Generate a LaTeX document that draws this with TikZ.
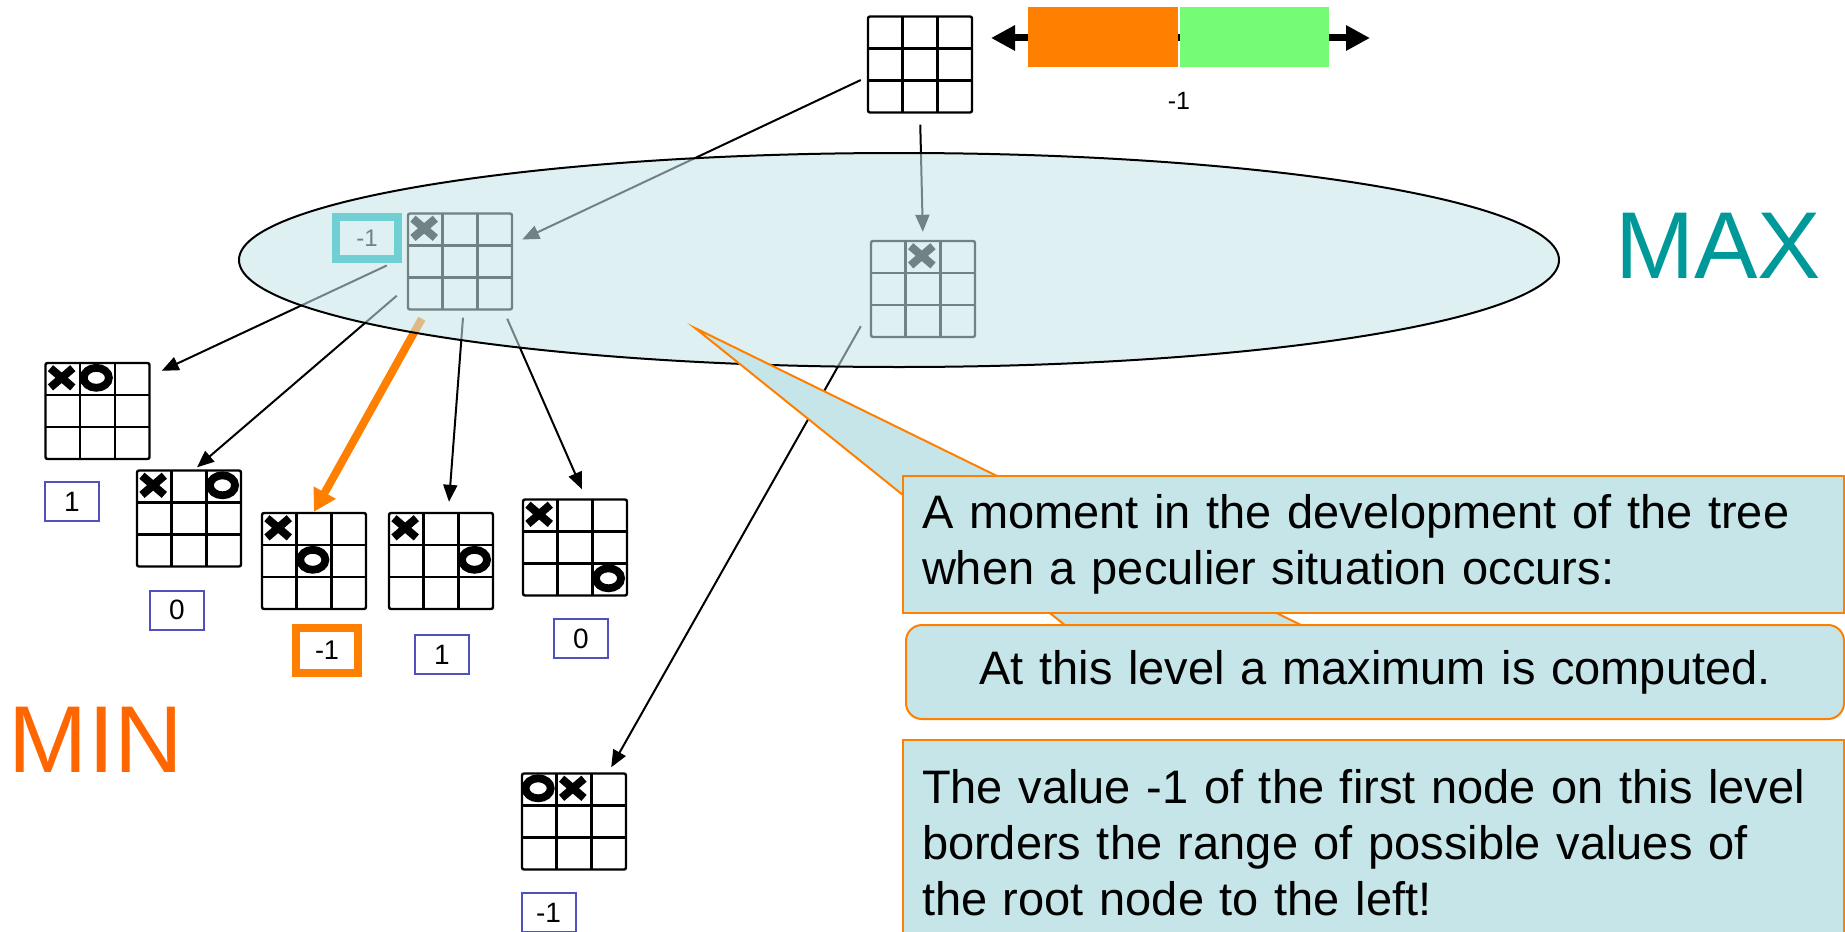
\documentclass[tikz,border=0pt]{standalone}
\usepackage{fontspec}
\setmainfont{Liberation Sans}
\usetikzlibrary{arrows.meta,positioning,calc}
\definecolor{callfill}{RGB}{197,229,232}
\definecolor{orng}{RGB}{255,128,0}
\definecolor{grn}{RGB}{117,251,117}
\definecolor{maxcol}{RGB}{0,153,153}
\definecolor{mincol}{RGB}{255,102,0}
\definecolor{valblue}{RGB}{80,80,190}
\definecolor{tealb}{RGB}{0,179,184}
\tikzset{
  brd/.style={draw,line width=1.2pt,rounded corners=1pt,minimum width=52pt,
    minimum height=48pt,inner sep=0pt,
    path picture={
      \foreach \k in {1,2}{
        \draw[line width=1.2pt]
          ($(path picture bounding box.north west)!\k/3!(path picture bounding box.north east)$) --
          ($(path picture bounding box.south west)!\k/3!(path picture bounding box.south east)$);
        \draw[line width=1.2pt]
          ($(path picture bounding box.north west)!\k/3!(path picture bounding box.south west)$) --
          ($(path picture bounding box.north east)!\k/3!(path picture bounding box.south east)$);
      }}},
  xstroke/.style={line width=4pt},
  ostroke/.style={line width=3.9pt},
  val/.style={draw=valblue,line width=1pt,minimum width=27pt,minimum height=19.5pt,
    inner sep=0pt,font=\fontsize{14}{16}\selectfont},
  hotval/.style={val,draw=orng,line width=4pt,minimum width=31pt,minimum height=22.5pt,
    font=\fontsize{13.5}{15}\selectfont},
  tealval/.style={val,draw=tealb,line width=4pt,minimum width=31pt,minimum height=21pt,
    font=\fontsize{12}{14}\selectfont},
  arr/.style={-{Triangle[length=8.5pt,width=7pt]},line width=1pt},
  hot/.style={-{Triangle[length=11pt,width=12pt]},line width=4pt,draw=orng,fill=orng},
  barr/.style={{Triangle[length=12pt,width=12pt]}-{Triangle[length=12pt,width=12pt]},line width=3.5pt},
  rangebar/.style={minimum height=30pt,inner sep=0pt},
  callbox/.style={draw=orng,line width=1pt,fill=callfill,anchor=north west,inner xsep=9.5pt,
    inner ysep=0pt,font=\fontsize{23.5}{28}\selectfont},
  big/.style={font=\fontsize{47.5}{50}\selectfont,inner sep=0pt},
}
\newcommand{\mkX}[3]{\draw[xstroke] ($(#1.north west)+({(#2+0.5)*52pt/3},{-(#3+0.5)*16pt})$)
  +(-5.6pt,-4.8pt) -- +(5.6pt,4.8pt) +(-5.6pt,4.8pt) -- +(5.6pt,-4.8pt);}
\newcommand{\mkO}[3]{\draw[ostroke] ($(#1.north west)+({(#2+0.5)*52pt/3},{-(#3+0.5)*16pt})$)
  ellipse [x radius=6.3pt,y radius=5pt];}
\begin{document}
\begin{tikzpicture}[x=0.5pt,y=-0.5pt]
  \useasboundingbox (0,0) rectangle (1845,931);
  \node[brd] (root) at (920,64.5) {};
  \coordinate (lotip) at (991,38);
  \coordinate (hitip) at (1370,38);
  \draw[barr] (lotip) -- (hitip);
  \node[rangebar,fill=orng,minimum width=75pt] (lo) at (1103,37) {};
  \node[rangebar,fill=grn,minimum width=74.5pt,right=0.5pt of lo] (hi) {};
  \node[font=\fontsize{12.5}{14}\selectfont] (rootval) at (1179,101) {-1};

  \node[brd] (A) at (460,261.5) {};
  \node[brd] (B) at (923,289) {};
  \mkX{A}{0}{0}
  \mkX{B}{1}{0}
  \node[tealval] (aval) at (367,238) {-1};

  \node[brd] (c1) at (97.5,411) {};
  \node[brd] (c2) at (189,518.5) {};
  \node[brd] (c3) at (314,561) {};
  \node[brd] (c4) at (441,561) {};
  \node[brd] (c5) at (575,547.5) {};
  \node[brd] (d) at (574,821.5) {};
  \mkX{c1}{0}{0} \mkO{c1}{1}{0}
  \mkX{c2}{0}{0} \mkO{c2}{2}{0}
  \mkX{c3}{0}{0} \mkO{c3}{1}{1}
  \mkX{c4}{0}{0} \mkO{c4}{2}{1}
  \mkX{c5}{0}{0} \mkO{c5}{2}{2}
  \mkO{d}{0}{0} \mkX{d}{1}{0}
  \node[val] (v1) at (72,501.5) {1};
  \node[val] (v2) at (177,610) {0};
  \node[hotval] (v3) at (327,650.5) {-1};
  \node[val] (v4) at (442,654.5) {1};
  \node[val] (v5) at (581,638.5) {0};
  \node[val] (vd) at (548.5,912.5) {-1};

  \draw[arr] ([xshift=-3pt,yshift=-7.75pt]root.west) -- ([xshift=4.5pt,yshift=11pt]A.east);
  \draw[arr,shorten <=5.5pt,shorten >=4pt] (root.south) -- (B.north);
  \draw[arr] ([xshift=-10pt,yshift=-2pt]A.west) -- ([xshift=5.5pt,yshift=-4.5pt]c1.north east);
  \draw[arr] ([xshift=-5pt,yshift=7.5pt]A.south west) -- ([xshift=4pt,yshift=1pt]c2.north);
  \draw[hot] ([xshift=7.5pt,yshift=-4pt]A.south west) -- (c3.north);
  \draw[arr] ([xshift=1.5pt,yshift=-3.5pt]A.south) -- ([xshift=4pt,yshift=5pt]c4.north);
  \draw[arr] ([xshift=-3pt,yshift=-4pt]A.south east) -- ([xshift=3.5pt,yshift=4.5pt]c5.north);
  \draw[arr] ([xshift=-4.5pt,yshift=6pt]B.south west) -- ([xshift=-8pt,yshift=2.5pt]d.north east);

  \draw[line width=1pt,fill=callfill,fill opacity=.57] (899,260) ellipse [x radius=330pt,y radius=53.5pt];

  \draw[draw=orng,line width=1pt,fill=callfill] (695,328) -- (1066,626) -- (1303,626) -- cycle;
  \node[callbox,rounded corners=8pt,minimum width=469pt,minimum height=47pt,
    text width=450pt,align=center] (note2) at (905,624) {At this level a maximum is computed.};
  \node[callbox,minimum width=470.5pt,minimum height=68.5pt,text width=451.5pt,
    align=left] (note1) at (902,475)
    {A moment in the development of the tree\\when a peculier situation occurs:};
  \node[callbox,minimum width=470.5pt,minimum height=103pt,text width=451.5pt,
    align=left] (note3) at (902,739)
    {The value -1 of the first node on this level\\borders the range of possible values of\\the root node to the left!};

  \node[big,text=maxcol] (maxlbl) at (1718,246) {MAX};
  \node[big,text=mincol] (minlbl) at (96,739.5) {MIN};
\end{tikzpicture}
\end{document}
